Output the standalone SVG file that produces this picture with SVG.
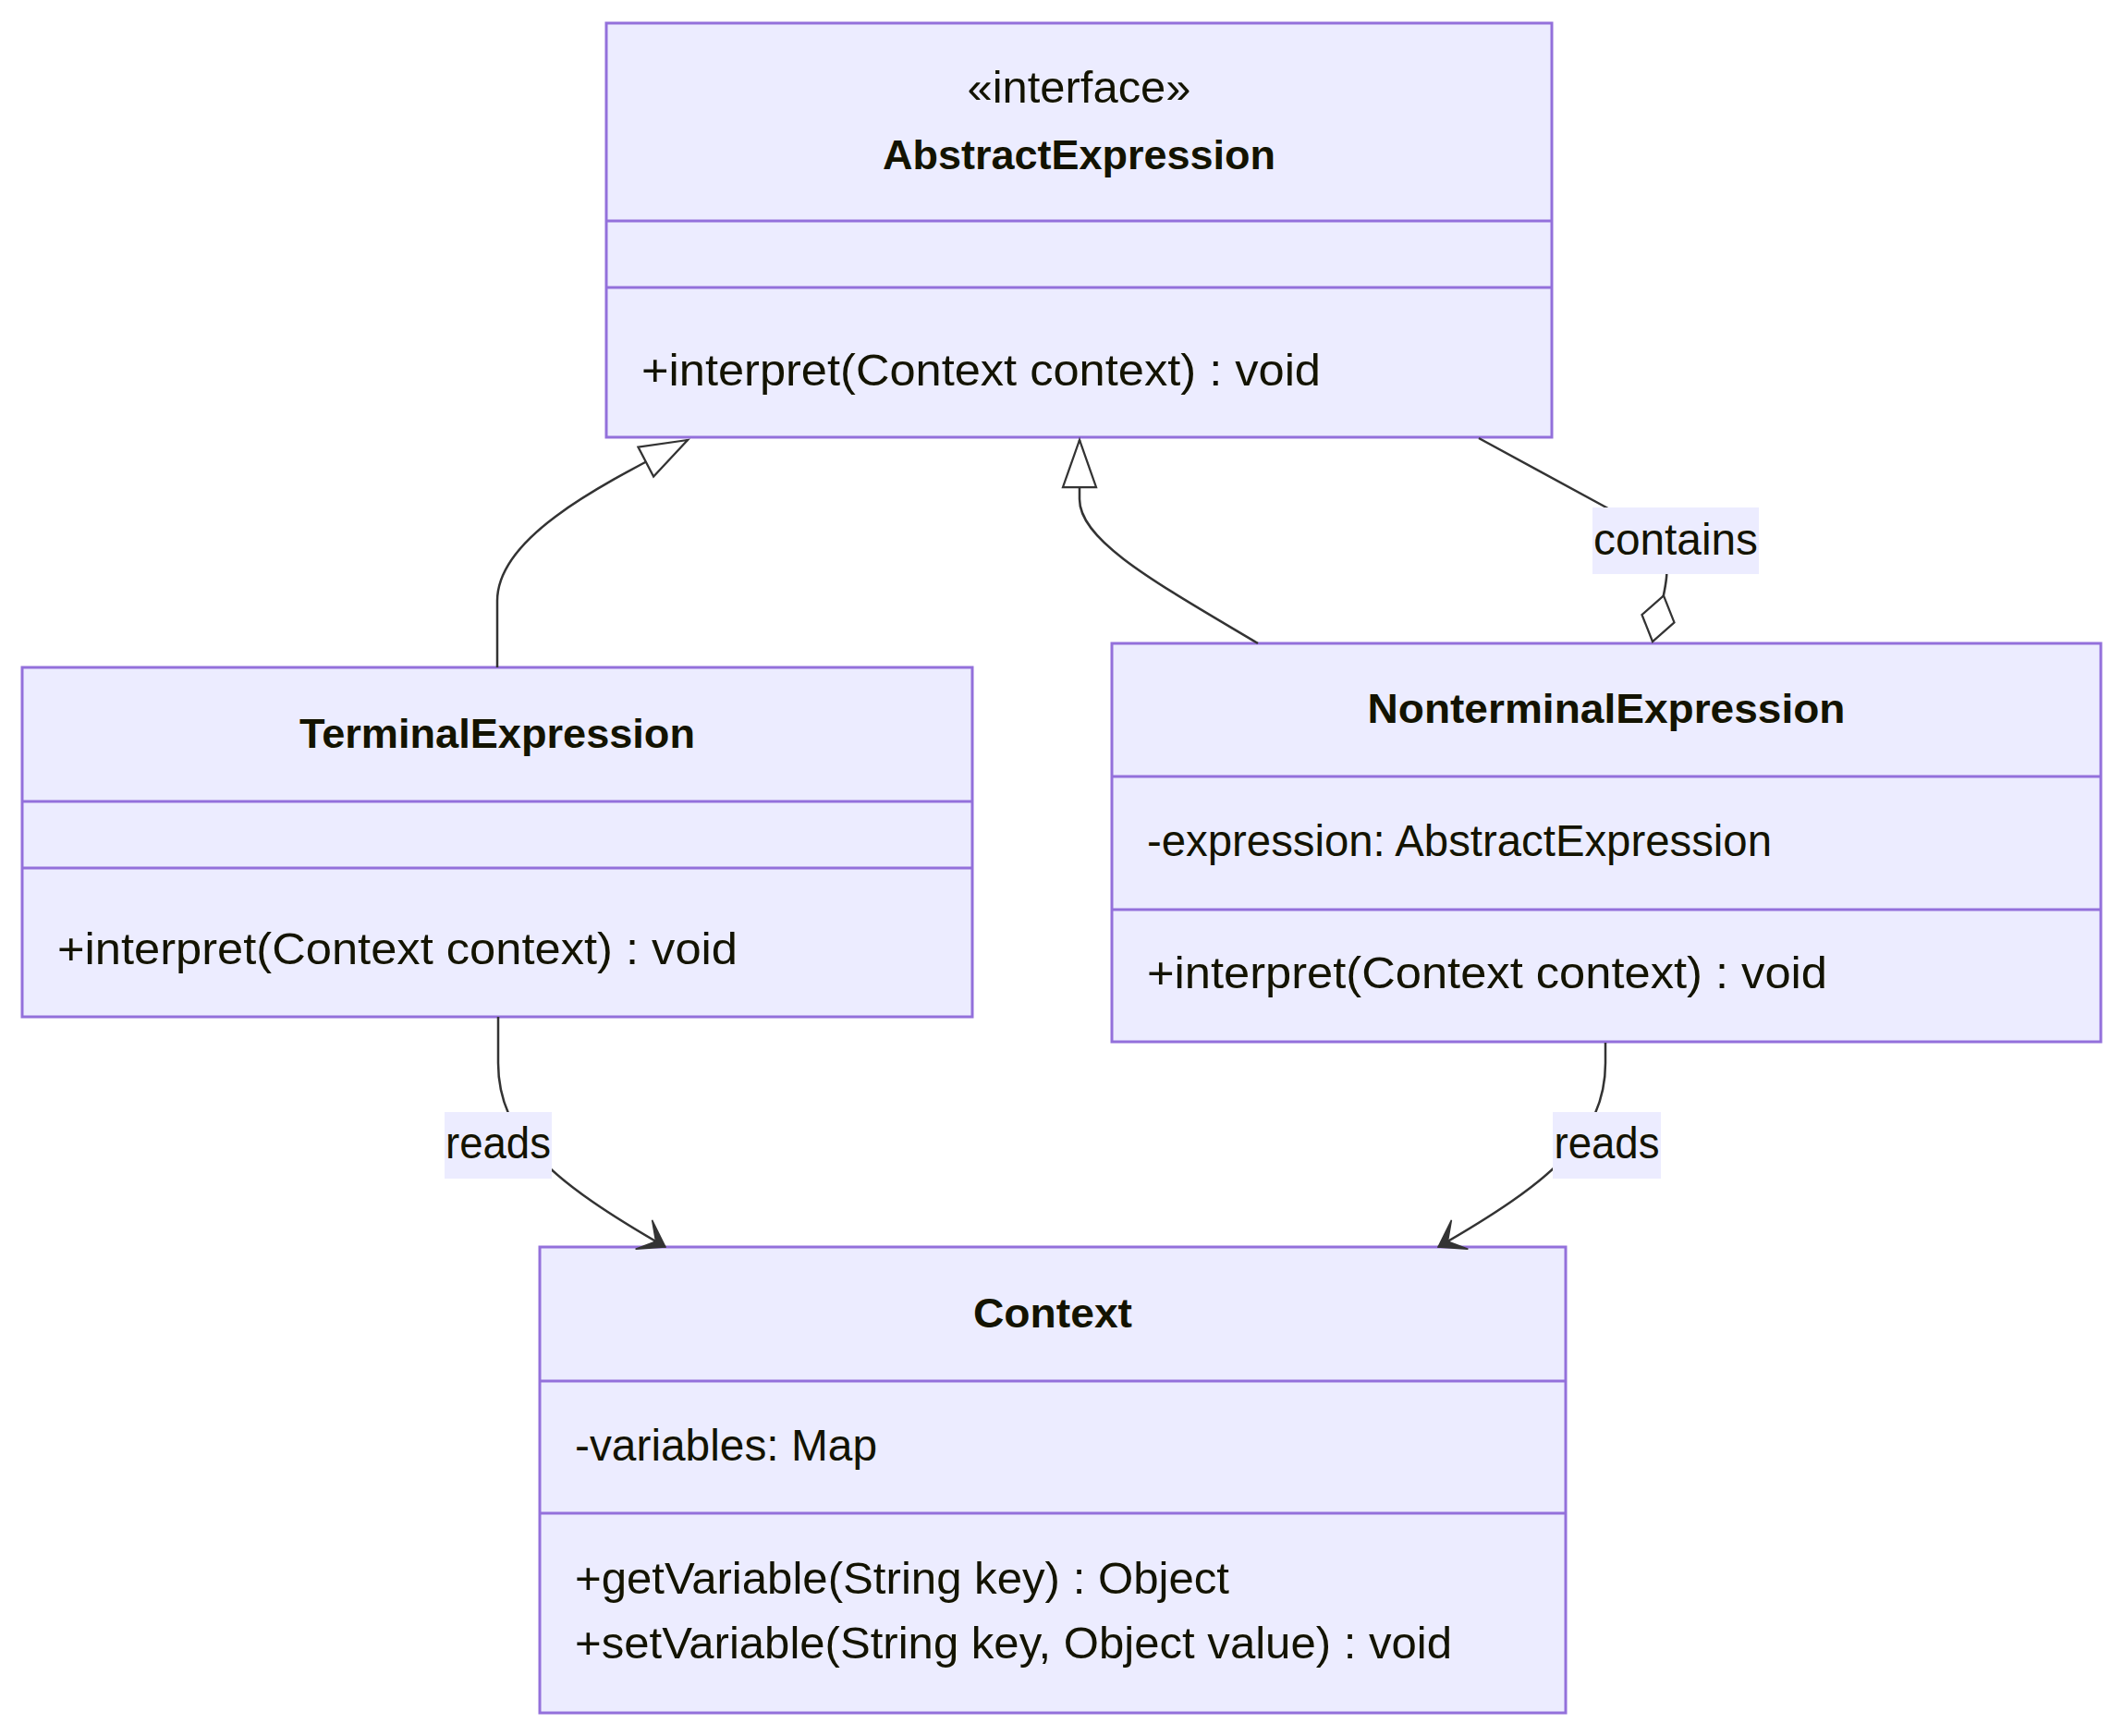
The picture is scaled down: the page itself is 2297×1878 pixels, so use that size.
<svg xmlns="http://www.w3.org/2000/svg" width="2297" height="1878" viewBox="0 0 2297 1878">
  <style>
    .box { fill: #ECECFF; stroke: #9370DB; stroke-width: 3; }
    .sep { stroke: #9370DB; stroke-width: 3; }
    .t { font-family: "Liberation Sans", Arial, sans-serif; font-size: 48px; fill: #131300; }
    .title { font-family: "Liberation Sans", Arial, sans-serif; font-size: 45px; font-weight: bold; fill: #131300; text-anchor: middle; }
    .mid { text-anchor: middle; }
    .edge { fill: none; stroke: #333333; stroke-width: 2.5; }
    .lbl { fill: #ECECFF; }
  </style>
  <defs>
    <marker id="extends" viewBox="0 0 20 14" refX="18" refY="7" markerWidth="60" markerHeight="42" markerUnits="userSpaceOnUse" orient="auto">
      <path d="M18,7 L1,1 L1,13 Z" fill="#ffffff" stroke="#333333" stroke-width="0.75"/>
    </marker>
    <marker id="aggregation" viewBox="0 0 20 14" refX="18" refY="7" markerWidth="60" markerHeight="42" markerUnits="userSpaceOnUse" orient="auto">
      <path d="M18,7 L9.5,13 L1,7 L9.5,1 Z" fill="#ffffff" stroke="#333333" stroke-width="0.75"/>
    </marker>
    <marker id="dependency" viewBox="0 0 20 14" refX="18" refY="7" markerWidth="60" markerHeight="42" markerUnits="userSpaceOnUse" orient="auto">
      <path d="M18,7 L9,13 L14,7 L9,1 Z" fill="#333333" stroke="#333333" stroke-width="0.5"/>
    </marker>
  </defs>

  <rect width="2297" height="1878" fill="#ffffff"/>

  <!-- classes -->
  <g id="AbstractExpression">
    <rect class="box" x="656" y="25" width="1023" height="448"/>
    <line class="sep" x1="656" y1="239" x2="1679" y2="239"/>
    <line class="sep" x1="656" y1="311" x2="1679" y2="311"/>
    <text class="t mid" x="1167.5" y="111" textLength="242" lengthAdjust="spacingAndGlyphs">«interface»</text>
    <text class="title" x="1167.5" y="183" textLength="425" lengthAdjust="spacingAndGlyphs">AbstractExpression</text>
    <text class="t" x="694" y="417" textLength="735" lengthAdjust="spacingAndGlyphs">+interpret(Context context) : void</text>
  </g>

  <g id="TerminalExpression">
    <rect class="box" x="24" y="722" width="1028" height="378"/>
    <line class="sep" x1="24" y1="867" x2="1052" y2="867"/>
    <line class="sep" x1="24" y1="939" x2="1052" y2="939"/>
    <text class="title" x="538" y="809" textLength="428" lengthAdjust="spacingAndGlyphs">TerminalExpression</text>
    <text class="t" x="62" y="1043" textLength="736" lengthAdjust="spacingAndGlyphs">+interpret(Context context) : void</text>
  </g>

  <g id="NonterminalExpression">
    <rect class="box" x="1203" y="696" width="1070" height="431"/>
    <line class="sep" x1="1203" y1="840" x2="2273" y2="840"/>
    <line class="sep" x1="1203" y1="984" x2="2273" y2="984"/>
    <text class="title" x="1738" y="782" textLength="517" lengthAdjust="spacingAndGlyphs">NonterminalExpression</text>
    <text class="t" x="1241" y="926" textLength="676" lengthAdjust="spacingAndGlyphs">-expression: AbstractExpression</text>
    <text class="t" x="1241" y="1069" textLength="736" lengthAdjust="spacingAndGlyphs">+interpret(Context context) : void</text>
  </g>

  <g id="Context">
    <rect class="box" x="584" y="1349" width="1110" height="504"/>
    <line class="sep" x1="584" y1="1494" x2="1694" y2="1494"/>
    <line class="sep" x1="584" y1="1637" x2="1694" y2="1637"/>
    <text class="title" x="1139" y="1436" textLength="172" lengthAdjust="spacingAndGlyphs">Context</text>
    <text class="t" x="622" y="1580" textLength="327" lengthAdjust="spacingAndGlyphs">-variables: Map</text>
    <text class="t" x="622" y="1724" textLength="708" lengthAdjust="spacingAndGlyphs">+getVariable(String key) : Object</text>
    <text class="t" x="622" y="1794" textLength="949" lengthAdjust="spacingAndGlyphs">+setVariable(String key, Object value) : void</text>
  </g>

  <!-- relations -->
  <g id="connectors">
    <path class="edge" d="M538,722 L538,650 C538,580 652,524 744,476" marker-end="url(#extends)"/>
    <path class="edge" d="M1361,696 C1250,630 1168,585 1168,540 L1168,476" marker-end="url(#extends)"/>
    <path class="edge" d="M1600,474 L1738,549 C1790,580 1806,600 1803,625 C1801,645 1795,665 1788,694" marker-end="url(#aggregation)"/>
    <path class="edge" d="M539,1100 L539,1150 C539,1230 600,1280 720,1349" marker-end="url(#dependency)"/>
    <path class="edge" d="M1737,1128 L1737,1150 C1737,1230 1676,1280 1556,1349" marker-end="url(#dependency)"/>

    <g id="label-contains">
      <rect class="lbl" x="1723" y="549" width="180" height="72"/>
      <text class="t mid" x="1813" y="600" textLength="178" lengthAdjust="spacingAndGlyphs">contains</text>
    </g>
    <g id="label-reads-terminal">
      <rect class="lbl" x="481" y="1203" width="116" height="72"/>
      <text class="t mid" x="539" y="1253" textLength="114" lengthAdjust="spacingAndGlyphs">reads</text>
    </g>
    <g id="label-reads-nonterminal">
      <rect class="lbl" x="1680" y="1203" width="117" height="72"/>
      <text class="t mid" x="1738.5" y="1253" textLength="114" lengthAdjust="spacingAndGlyphs">reads</text>
    </g>
  </g>
</svg>
